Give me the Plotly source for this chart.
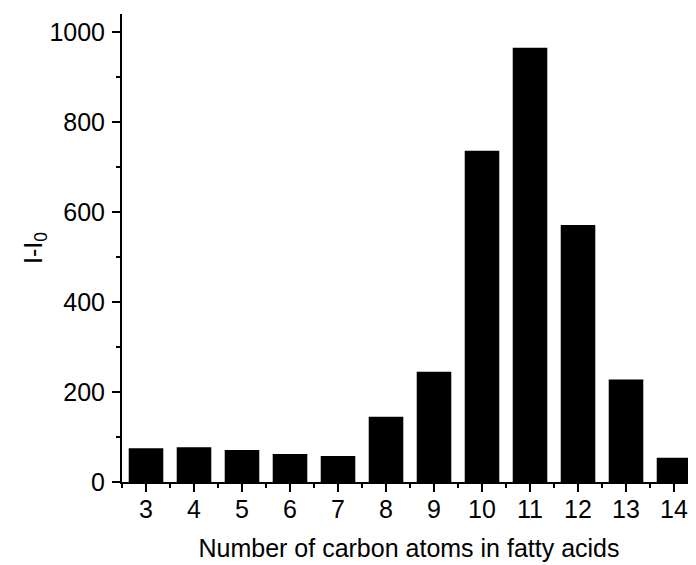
import plotly.graph_objects as go

carbons = [3, 4, 5, 6, 7, 8, 9, 10, 11, 12, 13, 14]
intensity = [75, 77, 71, 62, 58, 145, 245, 736, 965, 571, 228, 54]
y_ticks = [0, 200, 400, 600, 800, 1000]

FONT = "Arial, Liberation Sans, sans-serif"
FS = 25

fig = go.Figure(
    go.Bar(
        x=carbons,
        y=intensity,
        width=0.72,
        marker=dict(color="black", line=dict(width=0)),
    )
)

# page body has an 8px default margin, so the figure is sized to the visible area
fig.update_layout(
    width=688,
    height=557,
    margin=dict(l=114, r=0, t=6, b=83, pad=0),
    plot_bgcolor="white",
    paper_bgcolor="white",
    font=dict(family=FONT, size=FS, color="black"),
    showlegend=False,
)

fig.update_xaxes(
    range=[2.5, 14.458],
    tickvals=carbons,
    ticktext=[str(c) for c in carbons],
    ticks="outside",
    ticklen=8,
    tickwidth=2,
    tickcolor="black",
    showline=True,
    linecolor="black",
    linewidth=2,
    showgrid=False,
    zeroline=False,
    automargin=False,
    ticklabelstandoff=-4,
    minor=dict(ticks="outside", ticklen=4, tickwidth=2, tickcolor="black",
               tick0=2.5, dtick=1, showgrid=False),
    title=dict(text="Number of carbon atoms in fatty acids", standoff=17,
               font=dict(size=FS)),
)

fig.update_yaxes(
    range=[0, 1040],
    tickvals=y_ticks,
    ticks="outside",
    ticklen=8,
    tickwidth=2,
    tickcolor="black",
    showline=True,
    linecolor="black",
    linewidth=2,
    showgrid=False,
    zeroline=False,
    automargin=False,
    ticklabelstandoff=2,
    minor=dict(ticks="outside", ticklen=4, tickwidth=2, tickcolor="black",
               tick0=100, dtick=200, showgrid=False),
    title=dict(text="I-I<sub>0</sub>", standoff=0, font=dict(size=FS)),
)

fig.write_html("out.html")
